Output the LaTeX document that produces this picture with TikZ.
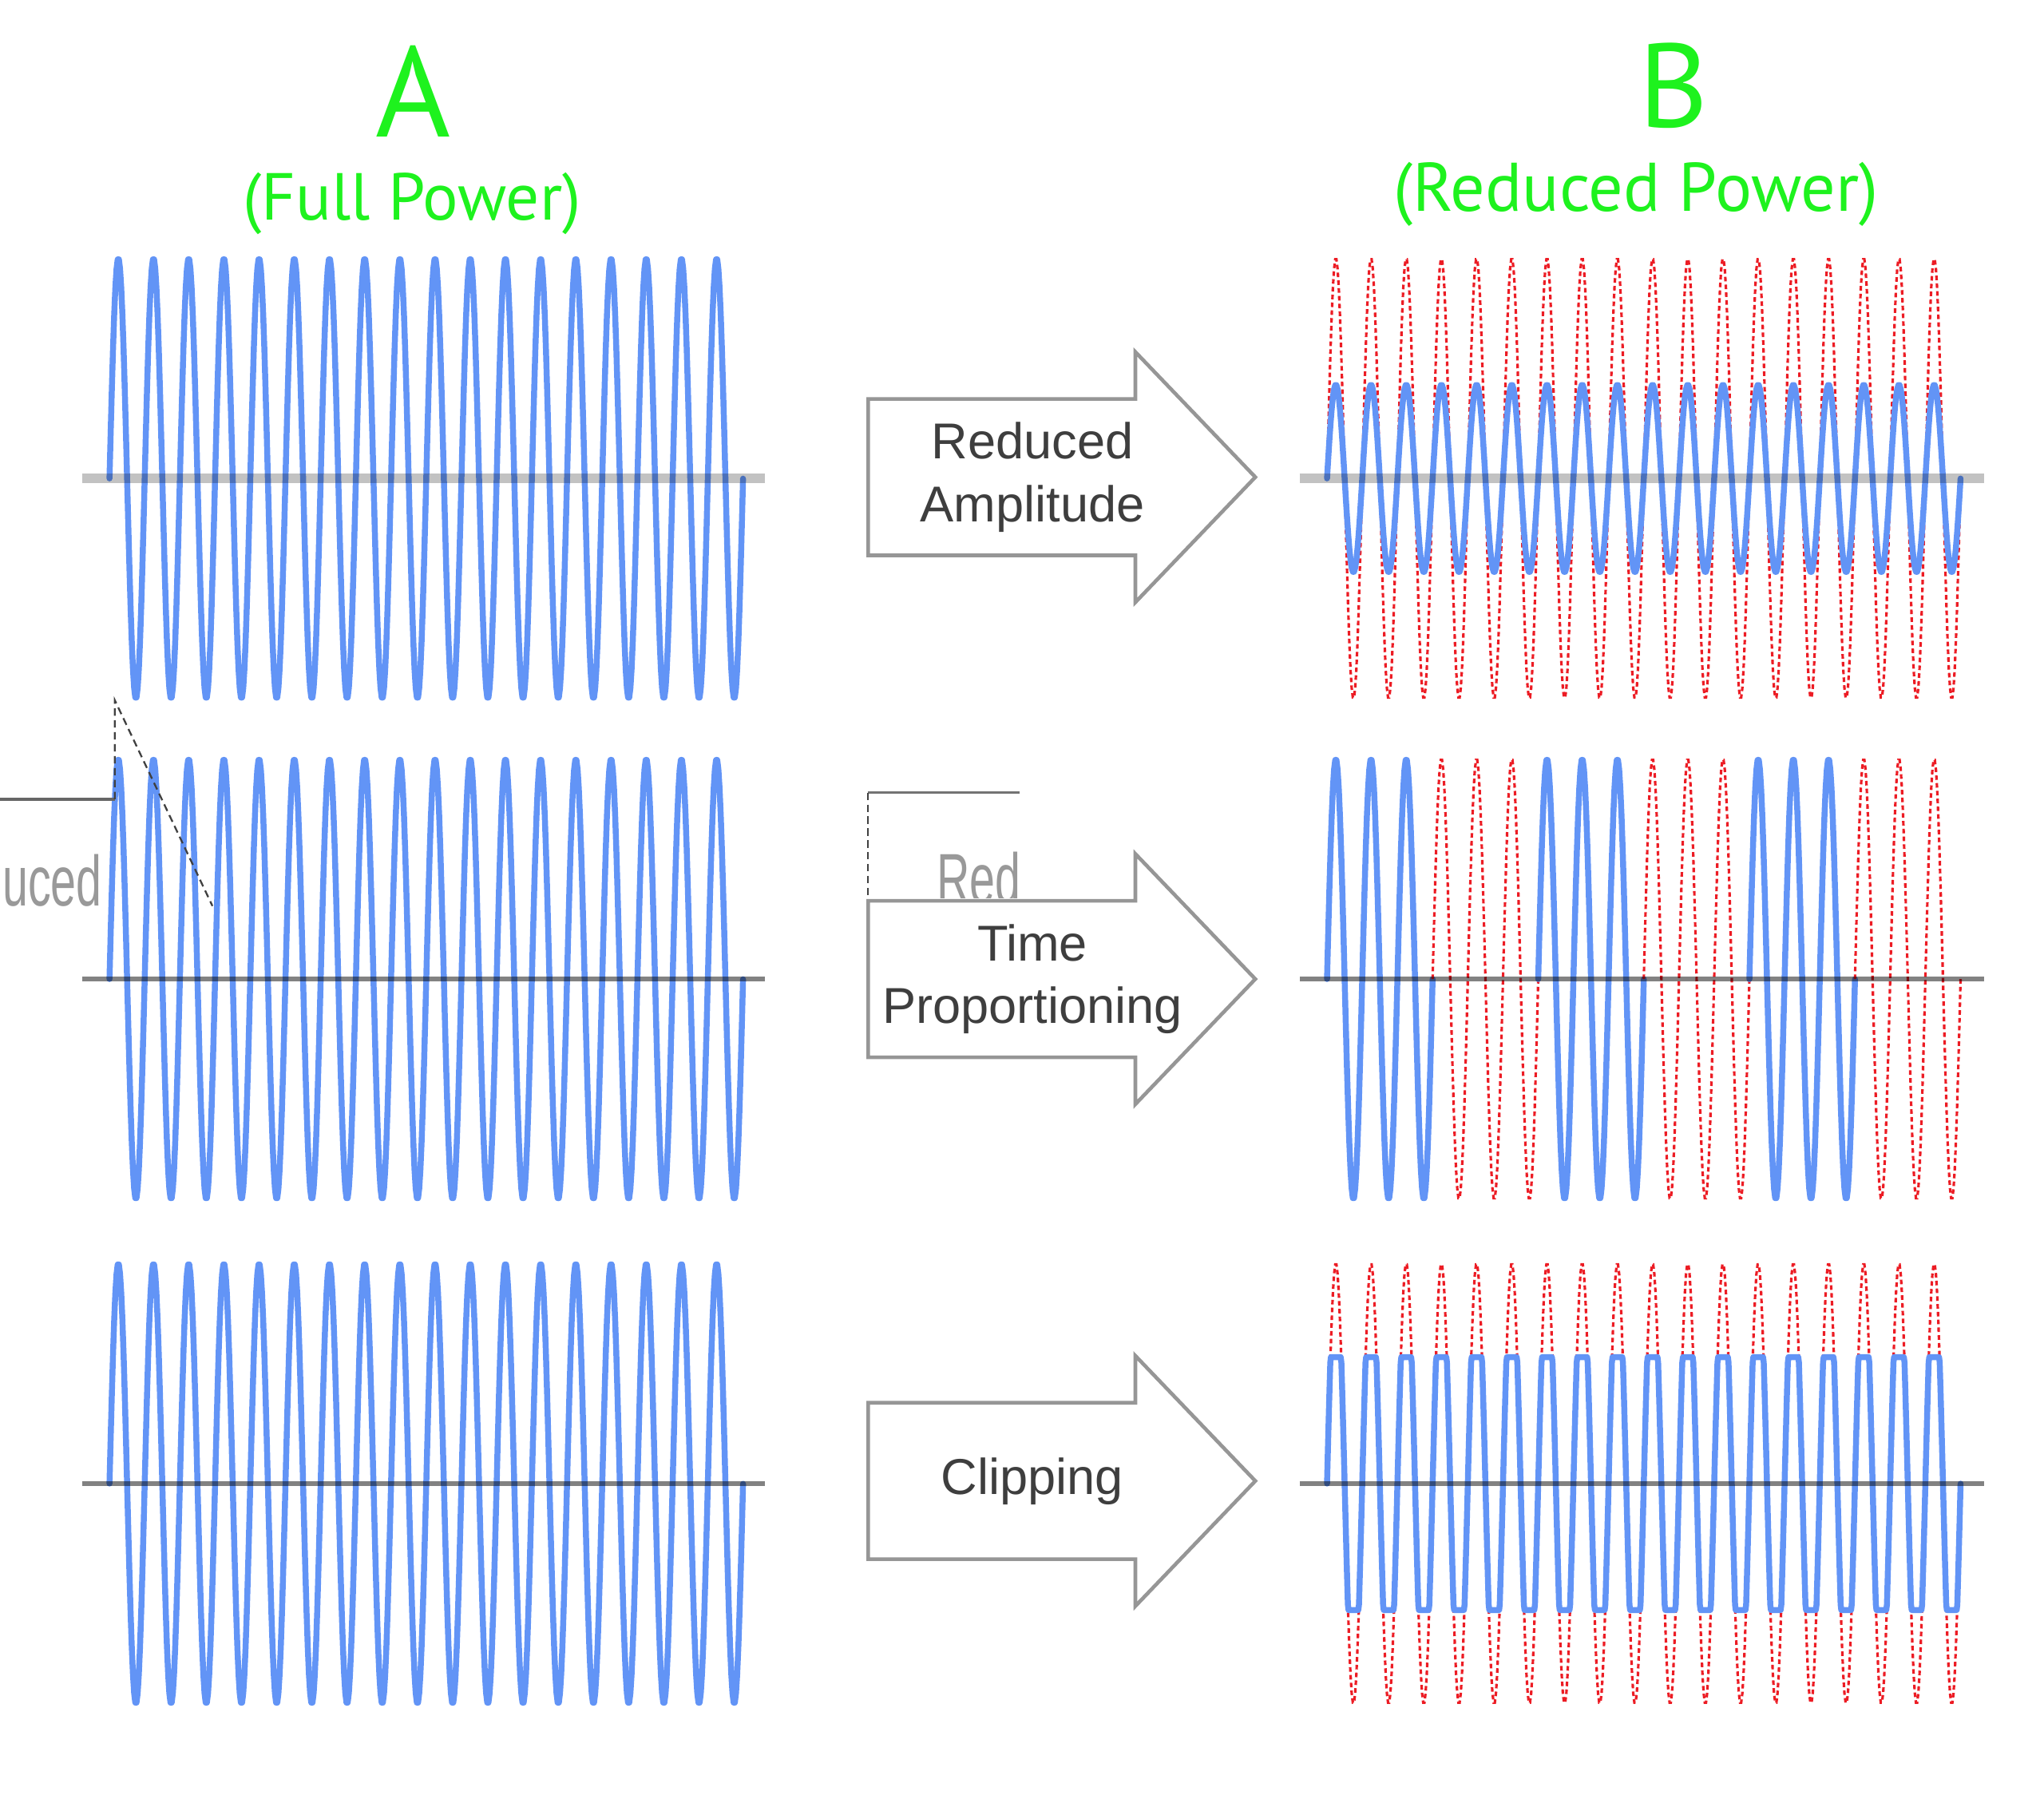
\documentclass[tikz,border=0pt]{standalone}
\usepackage{fontspec}
\setmainfont{Liberation Sans}
\newfontfamily\headfont{PT Sans}
\definecolor{sigblue}{RGB}{98,148,246}
\definecolor{sigred}{RGB}{236,28,36}
\definecolor{headgreen}{RGB}{30,242,30}
\definecolor{boxgray}{RGB}{150,150,150}
\definecolor{textgray}{RGB}{62,62,62}

\begin{document}
\begin{tikzpicture}[x=0.01cm,y=-0.01cm,
    signal/.style={sigblue,line width=1.3pt,line join=round,line cap=round},
    removed/.style={sigred,line width=0.55pt,dash pattern=on 1pt off 0.7pt},
    zerolight/.style={black,opacity=0.24,line width=2pt},
    zeroline/.style={black,opacity=0.49,line width=1.15pt},
    process/.style={boxgray,line width=0.8pt,line join=miter},
    proclabel/.style={textgray,align=center,font=\fontsize{11}{13.7}\selectfont},
    heading/.style={headgreen,anchor=base,inner sep=0pt},
    scrap/.style={black!40,inner sep=0pt,font=\fontsize{10}{12}\selectfont}]
  \useasboundingbox (0,0) rectangle (1568,1389);

  \node[heading,font=\headfont\fontsize{28}{30}\selectfont] (colA) at (317,105) {A};
  \node[heading,font=\headfont\fontsize{14.5}{16}\selectfont] (fullpow) at (316,169) {(Full Power)};
  \node[heading,font=\headfont\fontsize{26}{28}\selectfont] (colB) at (1284,98) {B};
  \node[heading,font=\headfont\fontsize{15}{17}\selectfont] (redpow) at (1255,162) {(Reduced Power)};

  \foreach \y in {367,751,1138}
    \draw[signal] plot[domain=84:570,samples=541] (\x,{\y-169*sin(13.3333*(\x-84))});

  \draw[removed] plot[domain=1018:1504,samples=541] (\x,{367-169*sin(13.3333*(\x-1018))});
  \draw[signal] plot[domain=1018:1504,samples=541] (\x,{367-72*sin(13.3333*(\x-1018))});

  \foreach \a [evaluate=\a as \s using int(1018+\a),
               evaluate=\a as \m using int(1099+\a),
               evaluate=\a as \e using int(1180+\a)] in {0,162,324} {
    \draw[signal] plot[domain=\s:\m,samples=91] (\x,{751-169*sin(13.3333*(\x-1018))});
    \draw[removed] plot[domain=\m:\e,samples=91] (\x,{751-169*sin(13.3333*(\x-1018))});
  }

  \draw[removed] plot[domain=1018:1504,samples=541] (\x,{1138-169*sin(13.3333*(\x-1018))});
  \draw[signal] plot[domain=1018:1504,samples=973] (\x,{1138-max(-97,min(97,169*sin(13.3333*(\x-1018))))});

  \draw[zerolight] (63,367) -- (587,367);
  \draw[zerolight] (997,367) -- (1522,367);
  \foreach \y in {751,1138} {
    \draw[zeroline] (63,\y) -- (587,\y);
    \draw[zeroline] (997,\y) -- (1522,\y);
  }

  \draw[black!60,line width=0.6pt] (0,613) -- (88,613);
  \draw[black!75,line width=0.4pt,dash pattern=on 1.6pt off 1pt] (88,613) -- (88,537) -- (163,695);
  \node[scrap,anchor=base east] (cutleft) at (79,695) {\scalebox{1}[1.55]{uced}};
  \draw[black!55,line width=0.6pt] (666,608) -- (782,608);
  \draw[black!75,line width=0.4pt,dash pattern=on 1.6pt off 1pt] (666,608) -- (666,692);
  \begin{scope}
    \clip (700,600) rectangle (800,689);
    \node[scrap,anchor=base west] (cutmid) at (718,693) {\scalebox{1}[1.55]{Red}};
  \end{scope}

  \foreach \c in {366,751,1136}
    \draw[process,fill=white] (666,{\c-60}) -- (871,{\c-60}) -- (871,{\c-96}) -- (963,\c)
      -- (871,{\c+96}) -- (871,{\c+60}) -- (666,{\c+60}) -- cycle;

  \node[proclabel] (amp) at (792,366) {Reduced\\Amplitude};
  \node[proclabel] (time) at (792,751) {Time\\Proportioning};
  \node[proclabel] (clip) at (792,1136) {Clipping};
\end{tikzpicture}
\end{document}
